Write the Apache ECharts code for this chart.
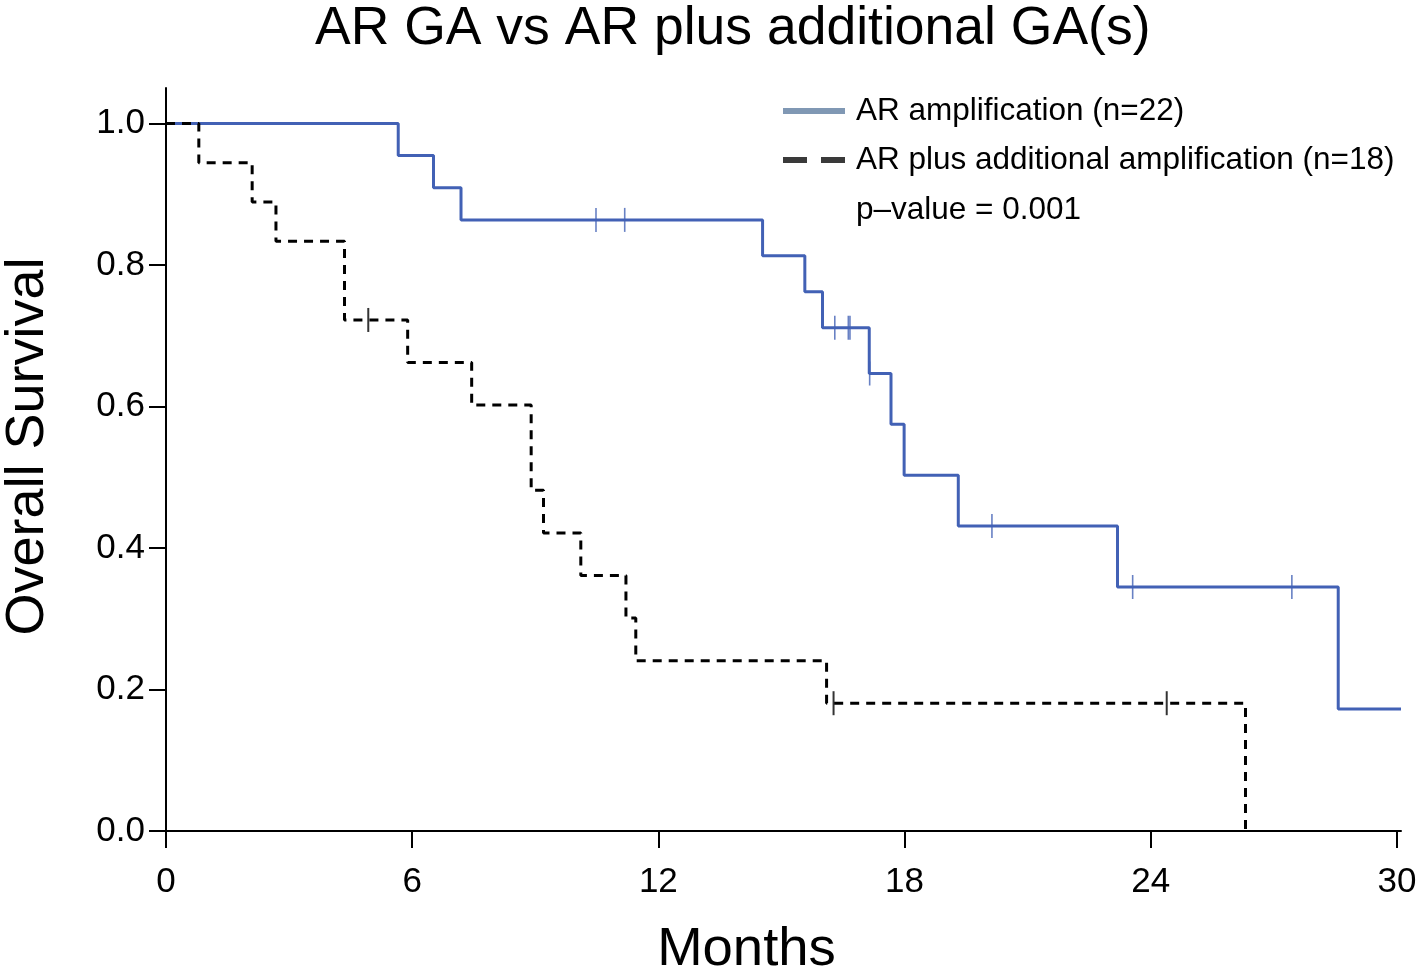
<!DOCTYPE html>
<html><head><meta charset="utf-8">
<script src="https://cdn.jsdelivr.net/npm/echarts@6/dist/echarts.min.js"></script>
<style>html,body{margin:0;padding:0;background:#fff}#c{width:1419px;height:971px}</style>
</head><body><div id="c"></div>
<script>
const xTicks = [0, 6, 12, 18, 24, 30];
const yTicks = [0, 0.2, 0.4, 0.6, 0.8, 1.0];
const seriesNames = ['AR amplification (n=22)', 'AR plus additional amplification (n=18)'];
const pValueText = 'p\u2013value = 0.001';

// AR amplification (n=22): Kaplan-Meier step points
const arTimes = [0, 5.66, 6.52, 7.19, 14.54, 15.57, 16.0, 17.14, 17.67, 17.99, 19.31, 23.19, 28.57, 30.1];
const arSurv  = [1, 0.9545, 0.9091, 0.8636, 0.8128, 0.7620, 0.7112, 0.6465, 0.5747, 0.5029, 0.4310, 0.3448, 0.1724, 0.1724];
const arCensorTimes = [10.48, 11.18, 16.30, 16.63, 16.67, 17.15, 20.13, 23.56, 27.44];
const arCensorSurv  = [0.8636, 0.8636, 0.7112, 0.7112, 0.7112, 0.6465, 0.4310, 0.3448, 0.3448];

// AR plus additional amplification (n=18)
const plusTimes = [0, 0.80, 2.10, 2.68, 4.35, 5.89, 7.45, 8.90, 9.20, 10.11, 11.21, 11.45, 16.10, 26.31];
const plusSurv  = [1, 0.9444, 0.8889, 0.8333, 0.7222, 0.6620, 0.6019, 0.4815, 0.4213, 0.3611, 0.3009, 0.2407, 0.1806, 0];
const plusCensorTimes = [4.93, 16.27, 24.39];
const plusCensorSurv  = [0.7222, 0.1806, 0.1806];

const F = '"Liberation Sans", Arial, Helvetica, sans-serif';
const BLUE = '#4261B5';
const zip = (a, b) => a.map((v, i) => [v, b[i]]);

const chart = echarts.init(document.getElementById('c'), null, {renderer: 'canvas'});
chart.setOption({
  animation: false,
  backgroundColor: '#fff',
  title: {
    text: 'AR GA vs AR plus additional GA(s)',
    left: 315, top: 2, padding: 0,
    textStyle: {fontFamily: F, fontSize: 53.5, fontWeight: 'normal', color: '#000'}
  },
  grid: {left: 166, right: 18, top: 88, bottom: 140, containLabel: false, outerBoundsMode: 'none'},
  legend: {
    orient: 'vertical', left: 783, top: 95, padding: 0,
    itemWidth: 62, itemHeight: 6, itemGap: 17,
    textStyle: {fontFamily: F, fontSize: 31.5, color: '#000', lineHeight: 31, padding: [0, 0, 0, 6]},
    data: [
      {name: seriesNames[0], icon: 'rect', itemStyle: {color: '#8098B4', borderWidth: 0}},
      {name: seriesNames[1], icon: 'path://M0,0h24v6h-24z M38,0h24v6h-24z', itemStyle: {color: '#3a3a3a', borderWidth: 0}}
    ]
  },
  graphic: [{
    type: 'text', left: 856, top: 194,
    style: {text: pValueText, font: '31.5px ' + F, fill: '#000'}
  }],
  xAxis: {
    type: 'value', min: 0, max: 30.1,
    name: 'Months', nameLocation: 'middle', nameGap: 91,
    nameTextStyle: {fontFamily: F, fontSize: 54.5, color: '#000', padding: [0, 74, 0, 0]},
    axisLine: {show: true, onZero: false, lineStyle: {color: '#000', width: 2}},
    axisTick: {show: true, length: 17, customValues: xTicks, lineStyle: {color: '#000', width: 2}},
    axisLabel: {customValues: xTicks, fontFamily: F, fontSize: 35, color: '#000', margin: 34},
    splitLine: {show: false}
  },
  yAxis: {
    type: 'value', min: 0, max: 1.05,
    name: 'Overall Survival', nameLocation: 'middle', nameGap: 111, nameRotate: 90,
    nameTextStyle: {fontFamily: F, fontSize: 54, color: '#000', padding: [0, 0, 0, 26]},
    axisLine: {show: true, onZero: false, lineStyle: {color: '#000', width: 2}},
    axisTick: {show: true, length: 17, customValues: yTicks, lineStyle: {color: '#000', width: 2}},
    axisLabel: {customValues: yTicks, fontFamily: F, fontSize: 35, color: '#000', margin: 21,
      formatter: v => v.toFixed(1)},
    splitLine: {show: false}
  },
  series: [
    {
      name: seriesNames[0], type: 'line', step: 'end', symbol: 'none',
      data: zip(arTimes, arSurv), color: BLUE,
      lineStyle: {color: BLUE, width: 3}, z: 2
    },
    {
      name: 'arCensor', type: 'scatter', symbol: 'rect', symbolSize: [1.6, 24],
      data: zip(arCensorTimes, arCensorSurv), itemStyle: {color: BLUE}, z: 3
    },
    {
      name: seriesNames[1], type: 'line', step: 'end', symbol: 'none',
      data: zip(plusTimes, plusSurv), color: '#000',
      lineStyle: {color: '#000', width: 3, type: [9, 7]}, z: 4
    },
    {
      name: 'plusCensor', type: 'scatter', symbol: 'rect', symbolSize: [2, 24],
      data: zip(plusCensorTimes, plusCensorSurv), itemStyle: {color: '#000'}, z: 5
    }
  ]
});
</script>
</body></html>
